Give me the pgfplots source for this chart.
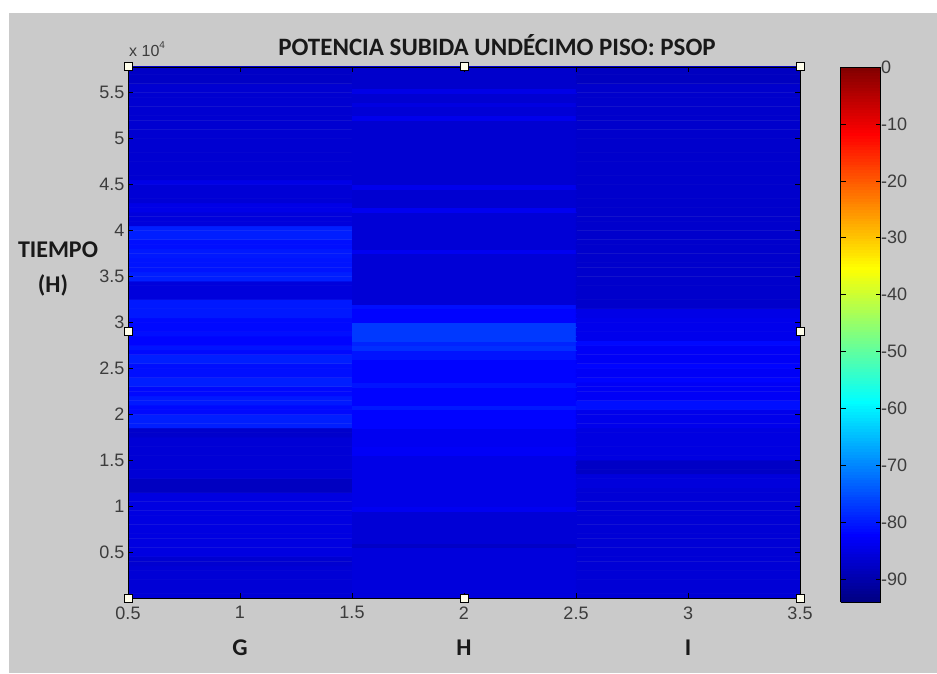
\documentclass[border=0pt]{standalone}
\usepackage{pgfplots}
\pgfplotsset{compat=1.18}
\usepackage{fontspec}
\setmainfont{Liberation Sans}
\newfontfamily\calibri{Carlito}
\definecolor{bgGray}{RGB}{202,202,202}
\definecolor{tickGray}{RGB}{60,60,60}
\begin{document}
\begin{tikzpicture}[x=1pt,y=1pt]
\fill[white] (0,0) rectangle (937,673);
\fill[bgGray] (9,0) rectangle (937,660);
\begin{axis}[
  at={(128pt,75pt)}, anchor=south west,
  width=672pt, height=531pt, scale only axis,
  xmin=0.5, xmax=3.5, ymin=0, ymax=57800,
  scaled y ticks=false, scaled x ticks=false,
  xtick={0.5,1,1.5,2,2.5,3,3.5},
  xticklabels={0.5,1,1.5,2,2.5,3,3.5},
  ytick={5000,10000,15000,20000,25000,30000,35000,40000,45000,50000,55000},
  yticklabels={0.5,1,1.5,2,2.5,3,3.5,4,4.5,5,5.5},
  tick label style={font=\fontsize{18}{18}\selectfont, text=tickGray},
  xticklabel style={yshift=-5pt},
  tick align=inside, major tick length=5pt,
  tick style={black, line width=0.6pt},
  axis line style={black, line width=0.8pt},
  axis on top,
  colormap/jet,
  point meta min=-94, point meta max=0,
  colorbar sampled,
  colorbar style={
    at={(parent axis.north east)}, anchor=north west, xshift=32pt,
    scale only axis, width=40pt, height=535pt,
    samples=189,
    ytick={-90,-80,-70,-60,-50,-40,-30,-20,-10,0},
    yticklabels={-90,-80,-70,-60,-50,-40,-30,-20,-10,0},
    ytick pos=both, yticklabel pos=right,
    tick align=inside, major tick length=5pt,
    yticklabel style={font=\fontsize{18}{18}\selectfont, text=tickGray, xshift=-3pt},
    axis line style={black, line width=0.8pt},
  },
]
\addplot[matrix plot*, mesh/cols=3, point meta=explicit] coordinates {
(1,250)[-86] (2,250)[-85.5] (3,250)[-86]
(1,750)[-86] (2,750)[-85.5] (3,750)[-86]
(1,1250)[-86] (2,1250)[-85.5] (3,1250)[-86]
(1,1750)[-86] (2,1750)[-85.5] (3,1750)[-86]
(1,2250)[-86] (2,2250)[-85.5] (3,2250)[-86]
(1,2750)[-86] (2,2750)[-85.5] (3,2750)[-86]
(1,3250)[-86] (2,3250)[-85.5] (3,3250)[-86]
(1,3750)[-86.5] (2,3750)[-85.5] (3,3750)[-86]
(1,4250)[-86.5] (2,4250)[-85.5] (3,4250)[-86]
(1,4750)[-85] (2,4750)[-85.5] (3,4750)[-86]
(1,5250)[-85] (2,5250)[-85.5] (3,5250)[-86]
(1,5750)[-85] (2,5750)[-87.5] (3,5750)[-86]
(1,6250)[-85] (2,6250)[-86] (3,6250)[-86]
(1,6750)[-85] (2,6750)[-86] (3,6750)[-86]
(1,7250)[-85] (2,7250)[-86] (3,7250)[-86]
(1,7750)[-85] (2,7750)[-86] (3,7750)[-86]
(1,8250)[-85] (2,8250)[-86] (3,8250)[-86]
(1,8750)[-85] (2,8750)[-86] (3,8750)[-86]
(1,9250)[-85] (2,9250)[-86] (3,9250)[-86]
(1,9750)[-85] (2,9750)[-83.5] (3,9750)[-86]
(1,10250)[-85] (2,10250)[-84.5] (3,10250)[-86]
(1,10750)[-85] (2,10750)[-84.5] (3,10750)[-86]
(1,11250)[-85] (2,11250)[-84.5] (3,11250)[-86]
(1,11750)[-88] (2,11750)[-84.5] (3,11750)[-86]
(1,12250)[-88] (2,12250)[-84.5] (3,12250)[-85.5]
(1,12750)[-88] (2,12750)[-84.5] (3,12750)[-85.5]
(1,13250)[-86] (2,13250)[-84.5] (3,13250)[-85.5]
(1,13750)[-86] (2,13750)[-84.5] (3,13750)[-87.5]
(1,14250)[-86] (2,14250)[-84.5] (3,14250)[-87.5]
(1,14750)[-86] (2,14750)[-84.5] (3,14750)[-87.5]
(1,15250)[-86] (2,15250)[-84.5] (3,15250)[-85]
(1,15750)[-86] (2,15750)[-83] (3,15750)[-85]
(1,16250)[-86] (2,16250)[-83] (3,16250)[-85]
(1,16750)[-86] (2,16750)[-83.5] (3,16750)[-85]
(1,17250)[-86] (2,17250)[-83.5] (3,17250)[-85]
(1,17750)[-87] (2,17750)[-83.5] (3,17750)[-85]
(1,18250)[-87] (2,18250)[-83.5] (3,18250)[-85]
(1,18750)[-79.5] (2,18750)[-82] (3,18750)[-84]
(1,19250)[-79.5] (2,19250)[-82] (3,19250)[-84]
(1,19750)[-79.5] (2,19750)[-82] (3,19750)[-84]
(1,20250)[-81.5] (2,20250)[-82] (3,20250)[-84]
(1,20750)[-81.5] (2,20750)[-80] (3,20750)[-81]
(1,21250)[-80] (2,21250)[-82] (3,21250)[-81]
(1,21750)[-80] (2,21750)[-82] (3,21750)[-83]
(1,22250)[-81.5] (2,22250)[-82] (3,22250)[-83]
(1,22750)[-81.5] (2,22750)[-82] (3,22750)[-83]
(1,23250)[-79.5] (2,23250)[-80.5] (3,23250)[-83]
(1,23750)[-79.5] (2,23750)[-82] (3,23750)[-82]
(1,24250)[-81] (2,24250)[-82] (3,24250)[-83]
(1,24750)[-81] (2,24750)[-82] (3,24750)[-83]
(1,25250)[-81] (2,25250)[-82] (3,25250)[-82]
(1,25750)[-79.5] (2,25750)[-82] (3,25750)[-83]
(1,26250)[-79.5] (2,26250)[-80.5] (3,26250)[-83]
(1,26750)[-81.5] (2,26750)[-80.5] (3,26750)[-83]
(1,27250)[-80.5] (2,27250)[-78] (3,27250)[-83]
(1,27750)[-82] (2,27750)[-79] (3,27750)[-81.5]
(1,28250)[-82] (2,28250)[-77] (3,28250)[-84]
(1,28750)[-81] (2,28750)[-77] (3,28750)[-84]
(1,29250)[-81.5] (2,29250)[-77] (3,29250)[-84]
(1,29750)[-81.5] (2,29750)[-77] (3,29750)[-84]
(1,30250)[-81.5] (2,30250)[-82] (3,30250)[-84]
(1,30750)[-80] (2,30750)[-82] (3,30750)[-84.5]
(1,31250)[-80] (2,31250)[-82] (3,31250)[-84.5]
(1,31750)[-80] (2,31750)[-81] (3,31750)[-87]
(1,32250)[-80] (2,32250)[-86] (3,32250)[-87]
(1,32750)[-85.5] (2,32750)[-86] (3,32750)[-87]
(1,33250)[-85.5] (2,33250)[-86] (3,33250)[-87]
(1,33750)[-85.5] (2,33750)[-86] (3,33750)[-87]
(1,34250)[-85.5] (2,34250)[-86] (3,34250)[-87]
(1,34750)[-79.5] (2,34750)[-86] (3,34750)[-87]
(1,35250)[-79.5] (2,35250)[-86] (3,35250)[-87]
(1,35750)[-80.5] (2,35750)[-86] (3,35750)[-87]
(1,36250)[-80.5] (2,36250)[-86] (3,36250)[-87]
(1,36750)[-80.5] (2,36750)[-86] (3,36750)[-87]
(1,37250)[-80] (2,37250)[-86] (3,37250)[-87]
(1,37750)[-80] (2,37750)[-83.5] (3,37750)[-87]
(1,38250)[-81] (2,38250)[-86] (3,38250)[-87]
(1,38750)[-81] (2,38750)[-86] (3,38750)[-87]
(1,39250)[-79.5] (2,39250)[-86] (3,39250)[-87]
(1,39750)[-79.5] (2,39750)[-86] (3,39750)[-87]
(1,40250)[-79.5] (2,40250)[-86] (3,40250)[-87]
(1,40750)[-85.5] (2,40750)[-86] (3,40750)[-87]
(1,41250)[-85.5] (2,41250)[-86] (3,41250)[-87]
(1,41750)[-85.5] (2,41750)[-86] (3,41750)[-87]
(1,42250)[-84.5] (2,42250)[-83.5] (3,42250)[-87]
(1,42750)[-84.5] (2,42750)[-86.5] (3,42750)[-87]
(1,43250)[-86] (2,43250)[-86.5] (3,43250)[-87]
(1,43750)[-86] (2,43750)[-86.5] (3,43750)[-87]
(1,44250)[-86] (2,44250)[-86.5] (3,44250)[-87]
(1,44750)[-86] (2,44750)[-84] (3,44750)[-87]
(1,45250)[-84.5] (2,45250)[-86.5] (3,45250)[-87]
(1,45750)[-86.5] (2,45750)[-86.5] (3,45750)[-87]
(1,46250)[-86.5] (2,46250)[-86.5] (3,46250)[-87]
(1,46750)[-86.5] (2,46750)[-86.5] (3,46750)[-87]
(1,47250)[-86.5] (2,47250)[-86.5] (3,47250)[-87]
(1,47750)[-86.5] (2,47750)[-86.5] (3,47750)[-87]
(1,48250)[-86.5] (2,48250)[-86.5] (3,48250)[-87]
(1,48750)[-86.5] (2,48750)[-86.5] (3,48750)[-87]
(1,49250)[-86.5] (2,49250)[-86.5] (3,49250)[-87]
(1,49750)[-86.5] (2,49750)[-86.5] (3,49750)[-87]
(1,50250)[-86.5] (2,50250)[-86.5] (3,50250)[-87]
(1,50750)[-86.5] (2,50750)[-86.5] (3,50750)[-87]
(1,51250)[-86.5] (2,51250)[-86.5] (3,51250)[-87]
(1,51750)[-86.5] (2,51750)[-86.5] (3,51750)[-87]
(1,52250)[-86.5] (2,52250)[-84] (3,52250)[-87]
(1,52750)[-86.5] (2,52750)[-86] (3,52750)[-87]
(1,53250)[-86.5] (2,53250)[-86] (3,53250)[-87]
(1,53750)[-86.5] (2,53750)[-85] (3,53750)[-87]
(1,54250)[-86.5] (2,54250)[-86.5] (3,54250)[-87]
(1,54750)[-86.5] (2,54750)[-86.5] (3,54750)[-87]
(1,55250)[-86.5] (2,55250)[-84.5] (3,55250)[-87]
(1,55750)[-86.5] (2,55750)[-87] (3,55750)[-87]
(1,56250)[-87.5] (2,56250)[-87] (3,56250)[-88]
(1,56750)[-87.5] (2,56750)[-87] (3,56750)[-88]
(1,57250)[-87.5] (2,57250)[-87] (3,57250)[-88]
(1,57750)[-87.5] (2,57750)[-87] (3,57750)[-88]
};
\end{axis}
% labels
\node[anchor=base, text=black!90] at (497,617) {\calibri\bfseries\fontsize{25}{25}\selectfont POTENCIA SUBIDA UNDÉCIMO PISO: PSOP};
\node[anchor=base west, inner sep=0pt, text=tickGray] at (129,616) {\fontsize{16}{16}\selectfont x 10\raisebox{8pt}{\fontsize{10}{10}\selectfont 4}};
\node[text=black!90] at (58,423) {\calibri\bfseries\fontsize{24}{24}\selectfont TIEMPO};
\node[text=black!90] at (53,388) {\calibri\bfseries\fontsize{24}{24}\selectfont (H)};
\node[text=black!90] at (240,25) {\calibri\bfseries\fontsize{24}{24}\selectfont G};
\node[text=black!90] at (464,25) {\calibri\bfseries\fontsize{24}{24}\selectfont H};
\node[text=black!90] at (688,25) {\calibri\bfseries\fontsize{24}{24}\selectfont I};
% selection handles
\foreach \hx/\hy in {128/606,464/606,800/606,128/341,800/341,128/75,464/75,800/75}{
  \filldraw[fill=yellow!8!white, draw=black, line width=1pt] (\hx-4,\hy-4) rectangle (\hx+4,\hy+4);
}
\end{tikzpicture}
\end{document}
